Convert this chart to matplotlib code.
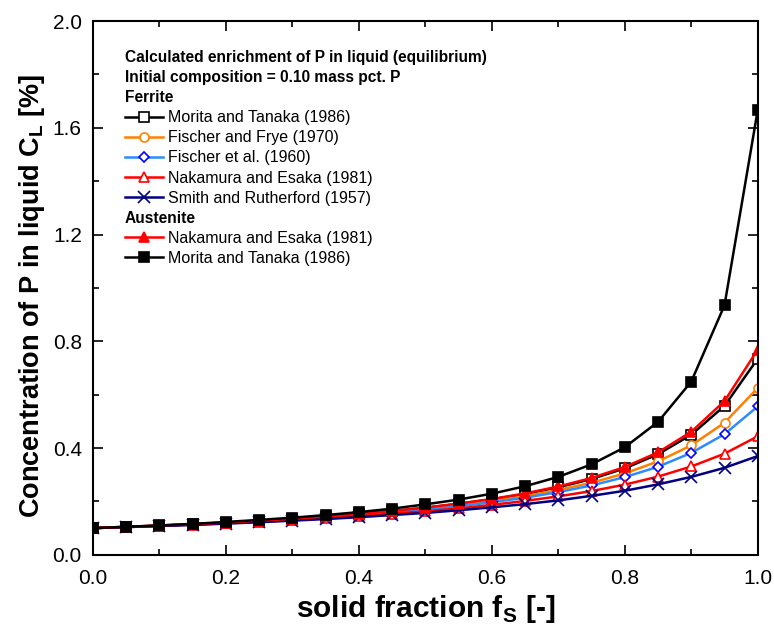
import matplotlib
matplotlib.use('Agg')
import matplotlib.pyplot as plt
from matplotlib.lines import Line2D
from matplotlib.ticker import MultipleLocator

plt.rcParams['font.family'] = ['Liberation Sans', 'DejaVu Sans']

fs = [0.0, 0.05, 0.1, 0.15, 0.2, 0.25, 0.3, 0.35, 0.4, 0.45, 0.5,
      0.55, 0.6, 0.65, 0.7, 0.75, 0.8, 0.85, 0.9, 0.95, 1.0]

# ferrite
morita_fe = [0.100, 0.105, 0.109, 0.115, 0.121, 0.128, 0.135, 0.143, 0.153, 0.164, 0.176,
             0.191, 0.208, 0.228, 0.253, 0.284, 0.324, 0.377, 0.450, 0.558, 0.735]
fischer_frye = [0.100, 0.104, 0.109, 0.114, 0.120, 0.127, 0.134, 0.142, 0.151, 0.161, 0.172,
                0.186, 0.202, 0.220, 0.243, 0.270, 0.305, 0.350, 0.410, 0.495, 0.625]
fischer_etal = [0.100, 0.104, 0.109, 0.114, 0.120, 0.126, 0.133, 0.140, 0.149, 0.158, 0.169,
                0.182, 0.197, 0.214, 0.235, 0.260, 0.291, 0.330, 0.382, 0.452, 0.556]
nakamura_fe = [0.100, 0.104, 0.108, 0.113, 0.118, 0.124, 0.130, 0.137, 0.145, 0.154, 0.163,
               0.174, 0.187, 0.202, 0.219, 0.239, 0.263, 0.293, 0.331, 0.379, 0.444]
smith = [0.100, 0.104, 0.108, 0.112, 0.117, 0.122, 0.128, 0.134, 0.141, 0.149, 0.157,
         0.167, 0.178, 0.190, 0.204, 0.221, 0.240, 0.264, 0.292, 0.326, 0.370]

# austenite
nakamura_gam = [0.100, 0.105, 0.110, 0.115, 0.121, 0.128, 0.135, 0.144, 0.153, 0.164, 0.177,
                0.192, 0.209, 0.230, 0.256, 0.288, 0.329, 0.384, 0.461, 0.576, 0.769]
morita_gam = [0.100, 0.105, 0.110, 0.116, 0.123, 0.131, 0.139, 0.149, 0.160, 0.173, 0.189,
              0.207, 0.229, 0.257, 0.292, 0.339, 0.403, 0.498, 0.649, 0.935, 1.667]

fig = plt.figure(figsize=(7.74, 6.37), dpi=100)
ax = fig.add_axes([0.120, 0.129, 0.859, 0.838])

lw = 1.8
ms = 6.5
series = [
    (morita_fe, 'Morita and Tanaka (1986)', 'black', 's', 'white', 'black'),
    (fischer_frye, 'Fischer and Frye (1970)', '#ff8000', 'o', 'white', '#ff8000'),
    (fischer_etal, 'Fischer et al. (1960)', '#2a8cff', 'D', 'white', '#0000ff'),
    (nakamura_fe, 'Nakamura and Esaka (1981)', '#ff0000', '^', 'white', '#ff0000'),
    (smith, 'Smith and Rutherford (1957)', '#000080', 'x', 'none', '#000080'),
    (nakamura_gam, 'Nakamura and Esaka (1981)', '#ff0000', '^', '#ff0000', '#ff0000'),
    (morita_gam, 'Morita and Tanaka (1986)', 'black', 's', 'black', 'black'),
]
lines = []
for y, lab, col, mk, mfc, mec in series:
    msize = ms - 1 if mk == 'D' else ms
    if mk == 'x':
        msize = ms + 2
    ln, = ax.plot(fs, y, color=col, lw=lw, marker=mk, ms=msize,
                  mfc=mfc, mec=mec, mew=1.2, label=lab)
    lines.append(ln)

ax.set_xlim(0, 1.0)
ax.set_ylim(0, 2.0)
ax.xaxis.set_major_locator(MultipleLocator(0.2))
ax.xaxis.set_minor_locator(MultipleLocator(0.1))
ax.yaxis.set_major_locator(MultipleLocator(0.4))
ax.yaxis.set_minor_locator(MultipleLocator(0.2))
ax.tick_params(which='both', direction='in', top=True, right=True,
               labelsize=15, width=1.2, pad=8)
ax.tick_params(axis='x', pad=10)
ax.tick_params(which='major', length=7)
ax.tick_params(which='minor', length=4)
for sp in ax.spines.values():
    sp.set_linewidth(1.5)

ax.set_xlabel('solid fraction f$_\\mathregular{S}$ [-]', fontsize=21.5, fontweight='bold')
ax.set_ylabel('Concentration of P in liquid C$_\\mathregular{L}$ [%]', fontsize=19.5,
              fontweight='bold')
ax.xaxis.set_label_coords(0.5, -0.071)
ax.yaxis.set_label_coords(-0.069, 0.485)

# legend rows; section headers sit on blank-handle rows, drawn flush left
blank = Line2D([], [], linestyle='none')
headers = {0: 'Calculated enrichment of P in liquid (equilibrium)',
           1: 'Initial composition = 0.10 mass pct. P',
           2: 'Ferrite',
           8: 'Austenite'}
handles = [blank, blank, blank] + lines[:5] + [blank] + lines[5:]
labels = [' '] * 3 + [l.get_label() for l in lines[:5]] + [' '] + \
         [l.get_label() for l in lines[5:]]

fsz = 11.5
hl, htp = 2.38, 0.31
leg = ax.legend(handles, labels, loc='upper left', bbox_to_anchor=(0.048, 0.946),
                frameon=False, fontsize=fsz, handlelength=hl, handletextpad=htp,
                labelspacing=0.32, borderpad=0, borderaxespad=0)
shift = (hl + htp) * fsz
texts = leg.get_texts()
for i, head in headers.items():
    ax.annotate(head, xy=(0, 0.5), xycoords=texts[i],
                xytext=(-shift, 0), textcoords='offset points',
                ha='left', va='center', fontsize=11.2, fontweight='bold',
                zorder=10)

fig.canvas.draw()
fig.savefig('out.png', dpi=100)
